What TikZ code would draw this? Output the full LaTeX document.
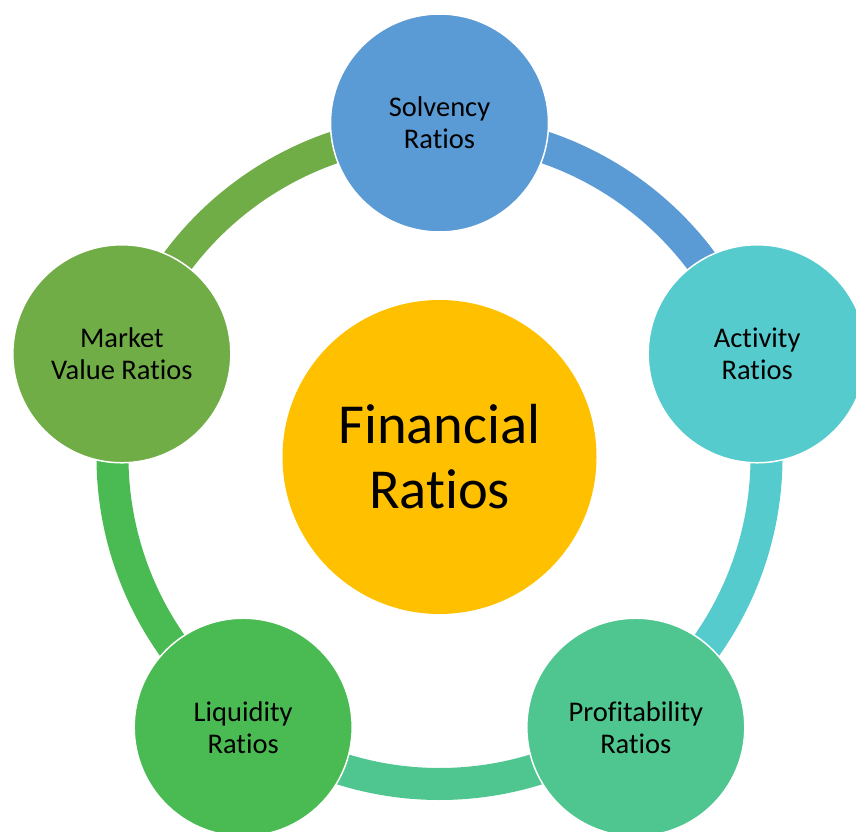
\documentclass[tikz,border=0pt]{standalone}
\usepackage{fontspec}
\setmainfont[Ligatures={NoCommon}]{Carlito}
\definecolor{cSolv}{HTML}{5B9BD5}
\definecolor{cAct}{HTML}{55CBCD}
\definecolor{cProf}{HTML}{4FC58F}
\definecolor{cLiq}{HTML}{4ABB52}
\definecolor{cMkt}{HTML}{70AD47}
\definecolor{cFin}{HTML}{FFC000}
\tikzset{
  outer/.style={circle, draw=white, line width=1.5, minimum size=218, inner sep=0, align=center,
    font=\fontsize{28.5}{32}\selectfont},
  hub/.style={circle, minimum size=314, inner sep=0, align=center, fill=cFin,
    font=\fontsize{56.5}{65}\selectfont},
  ring/.style={line width=32, line cap=butt}
}
\begin{document}
\begin{tikzpicture}[x=1pt,y=1pt]
\useasboundingbox (0,0) rectangle (856,831);
\clip (0,0) rectangle (856,831);
\coordinate (C) at (439.5,374);
\path (C) ++(90:334) coordinate (pS);
\path (C) ++(18:334) coordinate (pA);
\path (C) ++(-54:334) coordinate (pP);
\path (C) ++(-126:334) coordinate (pL);
\path (C) ++(162:334) coordinate (pM);
% ring segments
\draw[ring, cSolv] (C) ++(90:327) arc[start angle=90, end angle=18, radius=327];
\draw[ring, cAct] (C) ++(18:327) arc[start angle=18, end angle=-54, radius=327];
\draw[ring, cProf] (C) ++(-54:327) arc[start angle=-54, end angle=-126, radius=327];
\draw[ring, cLiq] (C) ++(-126:327) arc[start angle=-126, end angle=-198, radius=327];
\draw[ring, cMkt] (C) ++(162:327) arc[start angle=162, end angle=90, radius=327];
% circles
\node[hub] (fin) at (C) {Financial\\Ratios};
\node[outer, fill=cSolv] (solv) at (pS) {Solvency\\Ratios};
\node[outer, fill=cAct] (act) at (pA) {Activity\\Ratios};
\node[outer, fill=cProf] (prof) at (pP) {Profitability\\Ratios};
\node[outer, fill=cLiq] (liq) at (pL) {Liquidity\\Ratios};
\node[outer, fill=cMkt] (mkt) at (pM) {Market\\Value Ratios};
\end{tikzpicture}
\end{document}
